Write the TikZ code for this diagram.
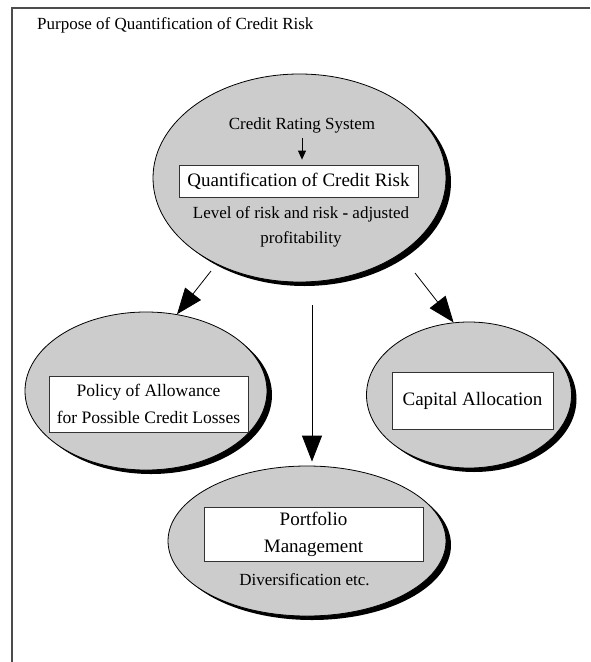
\documentclass[tikz,border=0pt]{standalone}
\usepackage{fontspec}
\setmainfont{Liberation Serif}
\usetikzlibrary{arrows.meta,shapes.geometric,shadows,calc}
\definecolor{ellgray}{gray}{0.8}
\begin{document}
\begin{tikzpicture}[x=1pt,y=-1pt,
  oval/.style={ellipse, draw=black, line width=0.8pt, fill=ellgray, inner sep=0pt,
    drop shadow={shadow xshift=5pt, shadow yshift=-4pt, fill=black, opacity=1}},
  boxnode/.style={rectangle, draw=black!80, fill=white, line width=0.8pt, inner sep=0pt, align=center},
  txt/.style={inner sep=0pt, align=center},
  bigarrow/.style={-{Triangle[length=26pt,width=20pt]}, line width=0.8pt},
  smallarrow/.style={-{Triangle[length=9pt,width=8pt]}, line width=0.8pt},
  fa/.style={font=\fontsize{17}{25}\selectfont},
  fb/.style={font=\fontsize{19}{27}\selectfont}
]
\useasboundingbox (0,0) rectangle (590,662);
% frame
\draw[line width=1.3pt, black!70] (12,662) -- (12,8) -- (590,8);
% title
\node[txt, fa, anchor=base west] (title) at (37,29) {Purpose of Quantification of Credit Risk};
% ellipses
\node[oval, minimum width=293pt, minimum height=208pt] (top) at (299.5,178) {};
\node[oval, minimum width=242pt, minimum height=158pt] (left) at (146,391) {};
\node[oval, minimum width=205pt, minimum height=146pt] (right) at (469,395) {};
\node[oval, minimum width=278pt, minimum height=150pt] (bottom) at (307,541) {};
% top content
\node[txt, fa] (crs) at (302,125) {Credit Rating System};
\node[boxnode, fb, minimum width=239pt, minimum height=32pt] (qcr) at (298.5,181) {Quantification of Credit Risk};
\draw[smallarrow, shorten <=5pt, shorten >=5pt] (crs.south) -- (crs.south |- qcr.north);
\node[txt, fa] (lvl) at (301,227) {Level of risk and risk \textbf{-} adjusted\\profitability};
% left content
\node[boxnode, font=\fontsize{17.5}{27}\selectfont, minimum width=199pt, minimum height=56pt] (pol) at (148.5,404) {Policy of Allowance\\for Possible Credit Losses};
% right content
\node[boxnode, fb, minimum width=161pt, minimum height=57pt] (cap) at (472.5,400.5) {Capital Allocation};
% bottom content
\node[boxnode, fb, minimum width=219pt, minimum height=54pt] (pm) at (313.5,534) {Portfolio\\Management};
\node[txt, fa] (div) at (304.5,580) {Diversification etc.};
% arrows
\coordinate (ls) at (211,271);
\coordinate (rs) at (415,273);
\coordinate (vs) at (312,305);
\draw[bigarrow] (ls) -- (left.68);
\draw[bigarrow] (rs) -- (right.102);
\draw[bigarrow, shorten >=4pt] (vs) -- (vs |- bottom.north);
\end{tikzpicture}
\end{document}
